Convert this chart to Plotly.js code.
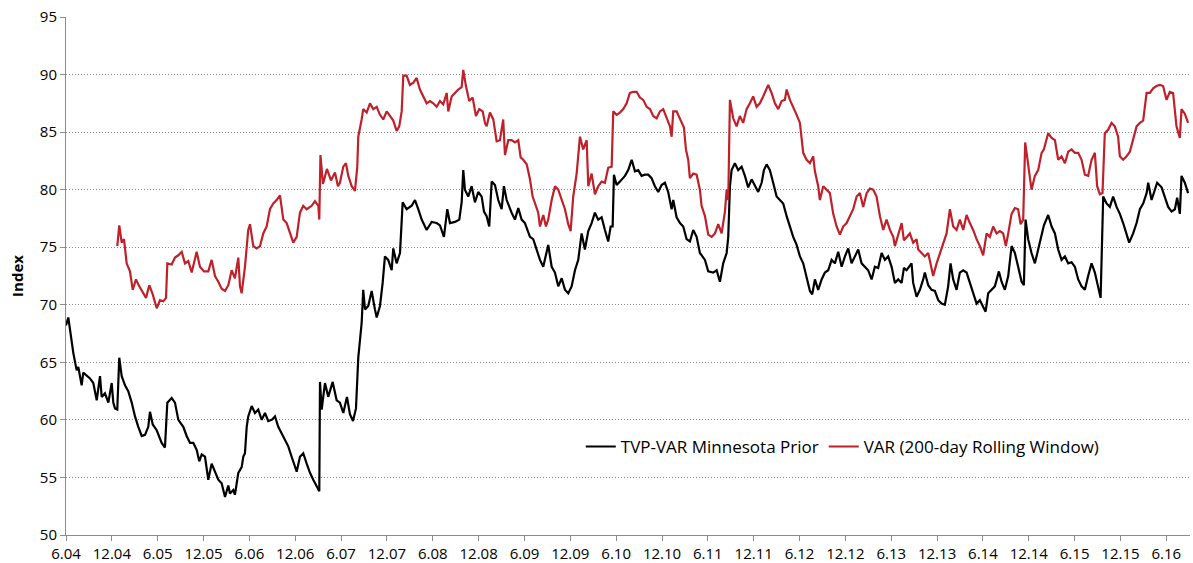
<!DOCTYPE html>
<html>
<head>
<meta charset="utf-8">
<script src="https://cdn.plot.ly/plotly-3.0.1.min.js"></script>
<style>html,body{margin:0;padding:0;background:#fff;}#chart{width:1193px;height:563px;}</style>
</head>
<body>
<div id="chart"></div>
<script>
// x values: months elapsed since June 2004
const tickLabels = ["6.04","12.04","6.05","12.05","6.06","12.06","6.07","12.07","6.08","12.08","6.09","12.09","6.10","12.10","6.11","12.11","6.12","12.12","6.13","12.13","6.14","12.14","6.15","12.15","6.16"];

const tvpMonths = [0,0.3,0.96,1.4,1.61,2.05,2.26,2.71,3.14,3.57,4.02,4.45,4.67,5.1,5.54,5.98,6.19,6.41,6.71,6.97,7.29,7.72,8.15,8.6,9.03,9.46,9.91,10.34,10.77,10.99,11.35,11.87,12.52,12.95,13.26,13.83,14.26,14.7,15.35,15.79,16.23,16.66,17.1,17.44,17.76,18.19,18.62,19.06,19.5,19.93,20.37,20.81,21.24,21.46,21.89,22.11,22.55,22.99,23.2,23.42,23.65,23.85,24.3,24.73,25.16,25.61,26.04,26.47,26.92,27.35,27.78,28.23,28.66,29.09,29.53,29.97,30.19,30.62,31.05,31.5,31.93,32.36,32.81,33.15,33.24,33.46,33.89,34.32,34.9,35.42,35.85,36.29,36.77,37.16,37.56,37.95,38.25,38.69,38.9,39.13,39.56,40.0,40.43,40.66,41.09,41.44,41.74,42.17,42.62,42.83,43.27,43.71,44.06,44.58,45.24,45.67,46.1,46.55,47.2,47.85,48.51,48.94,49.46,49.9,50.25,50.9,51.47,51.78,51.99,52.21,52.64,53.09,53.52,53.95,54.4,54.7,55.05,55.39,55.71,56.14,56.57,57.01,57.31,57.67,58.32,58.75,59.19,59.63,60.06,60.72,61.15,61.59,62.03,62.46,63.11,63.56,63.99,64.42,64.87,65.3,65.73,66.17,66.61,67.04,67.48,67.91,68.35,68.79,69.22,69.65,70.1,70.53,70.96,71.28,71.54,71.71,72.06,72.49,73.15,73.58,74.03,74.46,74.89,75.33,75.77,76.2,76.64,77.07,77.51,77.95,78.38,78.81,79.26,79.47,79.91,80.35,80.78,81.22,81.65,82.09,82.53,82.96,83.62,84.05,84.7,85.15,85.58,86.01,86.46,86.67,86.89,87.11,87.54,87.97,88.42,88.85,89.28,89.73,90.16,90.59,91.04,91.34,91.69,92.12,92.55,93.0,93.43,93.86,94.31,94.74,95.17,95.62,96.05,96.48,96.92,97.36,97.66,98.01,98.44,98.89,99.32,99.75,100.2,100.63,101.06,101.51,101.94,102.37,102.81,103.25,103.68,104.12,104.55,104.98,105.43,105.86,106.29,106.74,107.17,107.6,108.05,108.48,108.91,109.36,109.66,110.01,110.66,110.87,111.32,111.75,112.18,112.4,112.84,113.28,113.71,114.15,114.59,115.02,115.45,115.76,116.11,116.55,116.98,117.42,117.86,118.29,118.72,119.17,119.6,120.03,120.35,120.69,121.13,121.56,122.09,122.44,122.87,123.31,123.75,124.18,124.61,125.06,125.36,125.58,125.92,126.36,126.8,127.23,127.68,127.98,128.54,128.99,129.42,129.85,130.29,130.73,131.16,131.6,132.03,132.47,132.91,133.34,133.77,134.22,134.65,135.08,135.4,135.74,136.18,136.61,137.04,137.49,137.92,138.35,138.8,139.14,139.66,140.11,140.54,140.97,141.42,141.63,142.07,142.5,142.8,143.38,143.81,144.24,144.69,145.12,145.42,145.77,145.99,146.42,146.85];
const tvpValues = [68.2,68.9,65.8,64.3,64.6,63.0,64.1,63.8,63.6,63.2,61.7,63.8,62.0,62.3,61.5,63.2,61.5,61.0,60.9,65.4,63.8,63.0,62.5,61.5,60.3,59.4,58.6,58.7,59.4,60.7,59.6,59.1,58.0,57.6,61.5,61.9,61.5,60.0,59.4,58.6,58.0,58.0,57.4,56.4,57.0,56.8,54.8,56.2,55.4,54.8,54.5,53.3,54.3,53.6,53.9,53.5,55.4,55.9,56.8,57.1,59.4,60.3,61.2,60.6,60.9,60.0,60.6,59.9,60.0,60.3,59.4,58.8,58.3,57.7,56.8,55.9,55.5,56.8,57.1,56.2,55.4,54.8,54.2,53.8,63.3,60.9,63.2,62.0,63.3,61.7,61.5,60.6,62.0,60.5,59.9,61.0,65.4,68.4,71.3,69.6,69.9,71.2,69.6,68.9,69.9,71.9,74.2,73.9,73.0,74.9,73.6,74.5,78.9,78.3,78.6,79.1,78.3,77.4,76.5,77.2,77.1,76.9,75.9,78.3,77.1,77.2,77.4,78.9,81.7,80.0,79.4,80.3,78.9,79.8,79.4,78.1,77.7,76.8,80.7,80.4,79.1,78.3,80.3,79.1,78.0,77.4,78.4,77.4,77.1,75.9,75.7,74.8,73.9,73.3,75.2,73.3,72.8,71.6,72.3,71.3,71.0,71.6,73.0,73.9,76.2,74.8,76.4,77.1,78.0,77.4,77.6,76.5,75.5,76.8,76.8,81.3,80.4,80.7,81.2,81.7,82.6,81.6,81.7,81.2,81.3,81.3,81.0,80.3,79.8,80.4,80.6,79.8,78.3,79.1,77.6,77.1,76.8,75.7,75.5,76.5,75.9,74.5,73.9,72.9,72.8,73.0,72.0,73.6,74.5,75.9,80.3,81.7,82.3,81.7,82.0,81.2,80.2,80.9,80.3,79.8,80.6,81.7,82.2,81.7,80.6,79.4,79.1,78.8,77.7,76.8,75.9,75.2,74.2,73.6,72.5,71.2,70.9,72.2,71.3,72.2,72.8,73.0,73.9,73.6,74.6,73.3,74.2,74.9,73.6,74.2,74.8,73.6,73.3,73.0,72.2,73.3,73.2,74.5,73.9,74.2,73.3,71.9,72.2,71.9,73.2,73.0,73.6,71.9,70.7,71.3,72.2,72.8,71.7,71.3,71.2,70.4,70.1,70.0,71.6,73.6,72.2,71.3,72.8,73.0,72.8,71.9,71.0,70.1,70.4,69.9,69.4,71.0,71.3,71.6,72.9,72.0,71.3,72.5,75.1,74.5,73.3,72.0,71.7,77.4,75.7,74.5,73.6,74.8,76.2,76.9,77.8,76.8,76.2,74.8,73.9,74.2,73.6,73.7,73.3,72.2,71.6,71.3,72.5,73.6,72.8,71.6,70.6,79.4,78.8,78.5,79.4,78.5,77.9,77.1,76.2,75.4,76.2,77.1,78.3,78.8,79.7,80.6,79.1,80.0,80.6,80.2,79.4,78.5,78.1,78.3,79.3,77.9,81.2,80.6,79.7];

const varMonths = [6.71,6.97,7.29,7.59,7.94,8.37,8.73,9.16,9.59,9.91,10.47,10.9,11.35,11.87,12.3,12.73,13.09,13.26,13.83,14.26,14.7,15.14,15.57,16.0,16.45,17.1,17.53,18.06,18.62,19.06,19.5,19.93,20.37,20.81,21.24,21.68,22.11,22.55,22.77,22.99,23.42,23.85,24.08,24.51,24.95,25.39,25.82,26.26,26.69,27.13,27.57,28.0,28.44,28.88,29.31,29.74,30.19,30.62,31.05,31.5,32.15,32.58,33.02,33.15,33.3,33.63,34.15,34.68,35.2,35.59,35.85,36.29,36.64,36.94,37.39,37.82,38.12,38.25,38.69,38.9,39.35,39.78,40.21,40.66,41.09,41.52,41.97,42.4,42.83,43.27,43.61,43.93,44.14,44.58,45.01,45.45,45.89,46.32,46.76,47.2,47.63,48.06,48.51,48.94,49.37,49.82,50.03,50.47,50.9,51.33,51.78,51.99,52.34,52.77,53.22,53.65,54.08,54.53,54.83,55.05,55.48,55.92,56.36,56.79,57.22,57.45,57.88,58.32,58.75,59.19,59.5,59.84,60.29,60.72,61.07,61.5,61.8,62.03,62.46,62.81,63.11,63.56,63.99,64.42,64.87,65.3,65.73,66.04,66.38,66.83,67.26,67.69,68.14,68.35,68.79,69.22,69.65,70.1,70.53,70.96,71.41,71.62,72.06,72.49,72.93,73.37,73.8,74.23,74.68,75.11,75.54,75.99,76.42,76.85,77.3,77.73,78.16,78.61,79.04,79.26,79.47,79.91,80.35,80.87,81.13,81.43,81.65,82.09,82.53,82.96,83.18,83.62,84.05,84.5,84.93,85.36,85.8,86.24,86.46,86.67,86.89,87.32,87.76,88.19,88.62,89.07,89.5,89.93,90.38,90.81,91.24,91.9,92.34,92.78,93.21,93.65,94.08,94.31,94.74,95.17,95.62,96.05,96.27,96.48,96.92,97.36,97.79,98.01,98.44,98.66,99.1,99.54,99.97,100.41,100.85,101.28,101.71,102.16,102.59,103.02,103.47,103.9,104.33,104.78,105.21,105.64,106.08,106.52,106.95,107.39,107.83,108.26,108.48,108.91,109.36,109.66,110.01,110.44,110.87,111.32,111.53,111.97,112.4,112.84,113.28,113.49,113.94,114.37,114.8,115.24,115.68,116.11,116.55,116.98,117.42,117.86,118.29,118.72,119.17,119.6,120.03,120.48,120.91,121.34,121.79,122.22,122.65,123.0,123.31,123.75,124.18,124.61,124.93,125.27,125.53,125.92,126.36,126.8,127.23,127.68,127.98,128.54,128.99,129.42,129.85,130.29,130.73,131.16,131.6,132.03,132.47,132.91,133.34,133.77,134.22,134.65,134.95,135.3,135.65,135.95,136.38,136.83,137.26,137.69,137.92,138.35,138.8,139.23,139.66,140.11,140.54,140.97,141.42,141.85,142.28,142.72,143.15,143.58,144.03,144.46,144.89,145.33,145.77,145.99,146.42,146.85];
const varValues = [75.1,76.9,75.4,75.7,73.6,72.9,71.3,72.2,71.6,71.2,70.6,71.7,70.9,69.7,70.4,70.3,70.6,73.6,73.5,74.1,74.3,74.6,73.6,73.8,72.8,74.6,73.3,72.9,72.9,73.9,72.5,72.0,71.4,71.2,71.7,73.0,72.3,74.1,71.6,71.0,73.3,76.5,77.0,75.1,74.9,75.1,76.2,76.8,78.3,78.8,79.1,79.5,77.4,77.1,76.2,75.4,75.9,78.0,78.6,78.3,78.6,79.0,78.6,77.4,83.0,80.5,81.8,80.8,81.5,80.3,80.6,82.0,82.3,81.2,80.3,79.9,82.0,84.6,86.1,87.0,86.7,87.5,87.0,87.2,86.5,86.1,86.8,86.4,86.0,85.1,85.5,86.8,89.9,89.9,89.1,89.3,89.7,88.7,88.1,87.5,87.7,87.5,87.2,87.7,87.4,88.4,86.8,88.1,88.4,88.7,88.9,90.4,89.0,87.7,88.0,86.4,87.0,86.8,85.8,85.5,86.7,86.1,84.2,84.3,86.1,83.0,84.3,84.3,84.1,84.3,82.8,82.6,82.2,80.9,79.4,78.6,78.0,76.8,77.8,76.8,77.4,79.1,80.3,80.0,79.1,78.3,77.0,76.4,79.4,81.4,84.6,83.5,84.3,80.3,81.4,79.6,80.3,80.7,80.6,81.9,82.0,86.8,86.5,86.7,87.0,87.5,88.4,88.5,88.5,88.0,87.8,87.2,87.0,86.4,86.2,86.8,87.0,86.2,85.5,84.6,86.8,86.8,86.1,85.4,83.5,82.6,81.0,81.4,81.3,80.0,78.6,77.7,76.1,75.9,76.2,77.0,76.2,78.1,80.0,79.1,87.8,86.2,85.5,86.4,85.8,87.0,87.5,88.1,87.2,87.5,88.1,89.1,88.4,87.5,87.0,87.7,87.8,88.7,87.8,87.2,86.5,85.8,84.6,83.2,82.6,82.3,82.9,81.6,80.3,79.1,80.3,80.0,79.7,77.9,76.8,76.1,76.8,77.1,77.7,78.3,79.4,79.7,78.5,79.7,80.1,80.0,79.4,77.7,76.5,77.4,76.5,75.9,75.1,76.2,77.1,75.6,75.9,76.2,75.4,75.7,74.8,74.5,74.2,74.5,73.0,72.5,73.6,74.5,75.4,76.2,78.3,76.8,76.5,77.4,76.5,77.8,77.1,76.5,75.7,75.1,74.3,76.2,75.9,76.8,76.2,76.4,76.2,75.1,76.2,77.9,78.4,78.3,77.0,77.4,84.1,82.3,80.0,81.2,81.7,83.2,83.5,84.9,84.5,84.3,82.6,82.9,82.3,83.3,83.5,83.2,83.2,82.6,81.3,81.2,82.6,83.2,80.3,79.6,79.7,84.9,85.2,85.8,85.5,84.6,82.9,82.6,82.9,83.3,84.3,85.5,85.8,86.0,88.4,88.4,88.8,89.0,89.1,89.0,87.8,88.5,88.4,85.5,84.5,87.0,86.6,85.8];

const font = "'Open Sans', Lato, sans-serif";
const tickVals = tickLabels.map((_, i) => i * 6);

const traces = [
  {x: tvpMonths, y: tvpValues, type: 'scatter', mode: 'lines', name: 'TVP-VAR Minnesota Prior',
   line: {color: '#000000', width: 2.2}},
  {x: varMonths, y: varValues, type: 'scatter', mode: 'lines', name: 'VAR (200-day Rolling Window)',
   line: {color: '#C0202A', width: 2.2}}
];

const layout = {
  width: 1193, height: 563,
  margin: {l: 66, r: 3, t: 17, b: 28},
  paper_bgcolor: '#ffffff', plot_bgcolor: '#ffffff',
  font: {family: font, size: 15, color: '#000'},
  showlegend: true,
  legend: {orientation: 'h', x: 0.458, y: 0.17, xanchor: 'left', yanchor: 'middle',
           font: {family: font, size: 17, color: '#000'}, bgcolor: 'rgba(0,0,0,0)',
           itemwidth: 30, tracegroupgap: 0},
  xaxis: {range: [0, 147.1], tickmode: 'array', tickvals: tickVals, ticktext: tickLabels,
          showgrid: false, zeroline: false, showline: true, linecolor: '#8c8c8c', linewidth: 1,
          ticks: 'outside', ticklen: 5, tickcolor: '#8c8c8c', tickfont: {family: font, size: 15}},
  yaxis: {range: [50, 95], tickmode: 'array', tickvals: [50,55,60,65,70,75,80,85,90,95],
          showgrid: true, gridcolor: '#8a8a8a', griddash: '1px,2px', gridwidth: 1,
          zeroline: false, showline: true, linecolor: '#8c8c8c', linewidth: 1,
          ticks: 'outside', ticklen: 5, tickcolor: '#8c8c8c', tickfont: {family: font, size: 15},
          title: {text: '<b>Index</b>', font: {family: font, size: 15}, standoff: 12}}
};

Plotly.newPlot('chart', traces, layout, {displayModeBar: false, staticPlot: true});
</script>
</body>
</html>
